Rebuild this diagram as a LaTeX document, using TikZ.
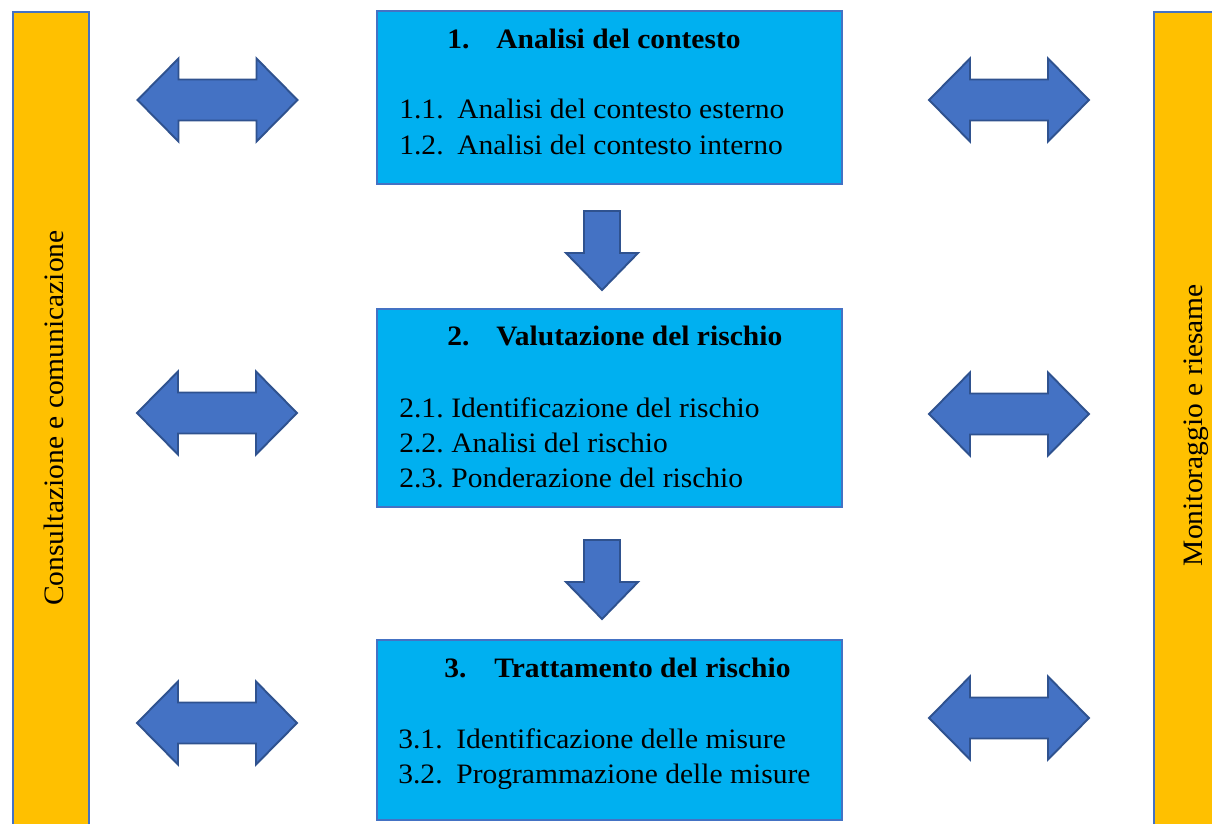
\documentclass[tikz,border=0pt]{standalone}
\usepackage{fontspec}
\setmainfont[FakeStretch=1.05]{Liberation Serif}
\usetikzlibrary{positioning}

\definecolor{boxcyan}{HTML}{00B0F0}
\definecolor{edgeblue}{HTML}{4472C4}
\definecolor{arrowfill}{HTML}{4472C4}
\definecolor{arrowedge}{HTML}{2F528F}
\definecolor{baramber}{HTML}{FFC000}

\tikzset{
  arrowshape/.style={fill=arrowfill, draw=arrowedge, line width=1.1pt, line join=miter},
  dblarrow/.pic={
    \draw[arrowshape] (-80,0) -- (-39,-41.5) -- (-39,-20.5) -- (39,-20.5) -- (39,-41.5)
      -- (80,0) -- (39,41.5) -- (39,20.5) -- (-39,20.5) -- (-39,41.5) -- cycle;},
  downarrow/.pic={
    \draw[arrowshape] (-18,0) -- (18,0) -- (18,42) -- (36,42) -- (0,79)
      -- (-36,42) -- (-18,42) -- cycle;}
}

\begin{document}
\begin{tikzpicture}[x=0.02cm, y=-0.02cm,
    stepbox/.style={draw=edgeblue, fill=boxcyan, line width=1.2pt, minimum width=9.3cm, inner sep=0pt},
    sidebar/.style={draw=edgeblue, fill=baramber, line width=1.2pt, minimum width=1.52cm, minimum height=16.8cm, inner sep=0pt},
    headtxt/.style={font=\fontsize{16}{19}\selectfont\bfseries, anchor=base west, inner sep=0pt},
    itemtxt/.style={font=\fontsize{16}{19}\selectfont, anchor=base west, inner sep=0pt},
    sidetxt/.style={font=\fontsize{16}{19}\selectfont, rotate=90, anchor=base, inner sep=0pt}]
  \useasboundingbox (0,0) rectangle (1212,823);
  \clip (0,0) rectangle (1212,823);

  % side bars
  \node[sidebar] (cons) at (51,432) {};
  \node[sidebar] (moni) at (1192,432) {};
  \node[sidetxt] (constxt) at (63,418) {Consultazione e comunicazione};
  \node[sidetxt] (monitxt) at (1202,425) {Monitoraggio e riesame};

  % step boxes
  \node[stepbox, minimum height=3.46cm] (b1) at (609.5,97.5) {};
  \node[stepbox, minimum height=3.96cm] (b2) at (609.5,408) {};
  \node[stepbox, minimum height=3.6cm] (b3) at (609.5,730) {};

  % box 1
  \node[headtxt] (n1) at (447,48) {1.};
  \node[headtxt] (h1) at (496,48) {Analisi del contesto};
  \node[itemtxt] (n11) at (399,118) {1.1.};
  \node[itemtxt] (i11) at (457,118) {Analisi del contesto esterno};
  \node[itemtxt] (n12) at (399,154) {1.2.};
  \node[itemtxt] (i12) at (457,154) {Analisi del contesto interno};

  % box 2
  \node[headtxt] (n2) at (447,345) {2.};
  \node[headtxt] (h2) at (496,345) {Valutazione del rischio};
  \node[itemtxt] (n21) at (399,417) {2.1.};
  \node[itemtxt] (i21) at (451,417) {Identificazione del rischio};
  \node[itemtxt] (n22) at (399,452) {2.2.};
  \node[itemtxt] (i22) at (451,452) {Analisi del rischio};
  \node[itemtxt] (n23) at (399,487) {2.3.};
  \node[itemtxt] (i23) at (451,487) {Ponderazione del rischio};

  % box 3
  \node[headtxt] (n3) at (444,677) {3.};
  \node[headtxt] (h3) at (494,677) {Trattamento del rischio};
  \node[itemtxt] (n31) at (398,748) {3.1.};
  \node[itemtxt] (i31) at (456,748) {Identificazione delle misure};
  \node[itemtxt] (n32) at (398,783) {3.2.};
  \node[itemtxt] (i32) at (456,783) {Programmazione delle misure};

  % arrows between steps
  \pic (d12) at (602,211) {downarrow};
  \pic (d23) at (602,540) {downarrow};

  % side arrows
  \pic (l1) at (217.5,100) {dblarrow};
  \pic (l2) at (217,413) {dblarrow};
  \pic (l3) at (217,723) {dblarrow};
  \pic (r1) at (1009,100) {dblarrow};
  \pic (r2) at (1009,414) {dblarrow};
  \pic (r3) at (1009,718) {dblarrow};
\end{tikzpicture}
\end{document}
